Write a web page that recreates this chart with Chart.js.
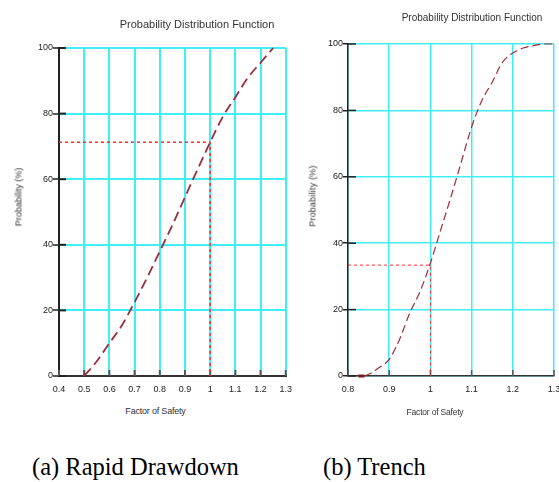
<!DOCTYPE html>
<html>
<head>
<meta charset="utf-8">
<script src="https://cdn.jsdelivr.net/npm/chart.js@4.4.0/dist/chart.umd.min.js"></script>
<style>
  html, body { margin: 0; padding: 0; background: #fff; overflow: hidden; width: 559px; height: 482px; }
  .box { position: absolute; top: 0; }
  .txt { position: absolute; white-space: nowrap; font-family: "Liberation Sans", Arial, sans-serif; color: #333; line-height: 1; transform: translate(-50%, -50%); }
  .rot { transform: translate(-50%, -50%) rotate(-90deg); }
  .cap { position: absolute; top: 455px; font-family: "Liberation Serif", "Times New Roman", serif; font-size: 24.5px; line-height: 1; color: #000; white-space: nowrap; }
</style>
</head>
<body>
<div class="box" style="left:0"><canvas id="chartA" width="300" height="400"></canvas></div>
<div class="box" style="left:290px"><canvas id="chartB" width="290" height="400"></canvas></div>

<div class="txt" style="left:197px;top:23.5px;font-size:11px">Probability Distribution Function</div>
<div class="txt" style="left:472px;top:17.5px;font-size:10px">Probability Distribution Function</div>
<div class="txt rot" style="left:19px;top:197px;font-size:9px">Probability (%)</div>
<div class="txt rot" style="left:313px;top:196px;font-size:9px;letter-spacing:0.2px">Probability (%)</div>
<div class="txt" style="left:155.5px;top:411px;font-size:9px;letter-spacing:-0.2px">Factor of Safety</div>
<div class="txt" style="left:435px;top:411.5px;font-size:8.5px;letter-spacing:-0.2px">Factor of Safety</div>
<div class="cap" style="left:32px">(a) Rapid Drawdown</div>
<div class="cap" style="left:323px">(b) Trench</div>

<script>
// tick values
const xTicksA = [0.4, 0.5, 0.6, 0.7, 0.8, 0.9, 1.0, 1.1, 1.2, 1.3];
const xTicksB = [0.8, 0.9, 1.0, 1.1, 1.2, 1.3];
const yTicks = [0, 20, 40, 60, 80, 100];

// (a) Rapid Drawdown
const fosA = [0.5, 0.55, 0.6, 0.65, 0.7, 0.75, 0.8, 0.85, 0.9, 0.95, 1.0, 1.05, 1.1, 1.15, 1.2, 1.25];
const probA = [0, 4.5, 10, 15.5, 22.5, 30, 38, 46, 54.5, 63, 71.3, 79, 85, 91, 95.5, 100];

// (b) Trench
const fosB = [0.84, 0.85, 0.875, 0.9, 0.925, 0.95, 0.975, 1.0, 1.025, 1.05, 1.075, 1.1, 1.125, 1.15, 1.175, 1.2, 1.225, 1.25, 1.275, 1.3];
const probB = [0, 0.5, 2.5, 5, 11, 19, 25.5, 34, 44, 54, 64.5, 75, 83, 88.5, 94.5, 97.3, 98.8, 99.5, 100, 100];
const startFosB = [0.825, 0.84];

// dotted guide lines at FS = 1
const refFos = [1.0, 1.0];
const refProb = [71.3, 33.4];

const cyan = "#40eef6";
const curveColor = "#9b2d3a";
const fontTicks = { family: "Liberation Sans", size: 9 };

// short inner tick marks on both axes
const innerTicks = {
  id: "innerTicks",
  beforeDatasetsDraw(chart, args, opts) {
    const { ctx, chartArea, scales } = chart;
    ctx.save();
    ctx.lineWidth = opts.width;
    ctx.strokeStyle = "#555";
    scales.x.ticks.forEach(t => {
      const px = scales.x.getPixelForValue(t.value);
      ctx.beginPath();
      ctx.moveTo(px, chartArea.bottom);
      ctx.lineTo(px, chartArea.bottom - opts.xLen);
      ctx.stroke();
    });
    ctx.strokeStyle = "#222";
    scales.y.ticks.forEach(t => {
      const py = scales.y.getPixelForValue(t.value);
      ctx.beginPath();
      ctx.moveTo(chartArea.left, py);
      ctx.lineTo(chartArea.left + opts.yLen, py);
      ctx.stroke();
    });
    ctx.restore();
  }
};

const pts = (xs, ys) => xs.map((x, i) => ({ x: x, y: ys[i] }));

//Chart (a)
const dataA = {
  datasets: [
    {
      data: pts(fosA, probA),
      borderColor: curveColor,
      borderWidth: 1.8,
      borderDash: [10, 5],
      pointRadius: 0,
      cubicInterpolationMode: "monotone",
      clip: 4,
    },
    {
      data: [{ x: xTicksA[0], y: refProb[0] }, { x: refFos[0], y: refProb[0] }, { x: refFos[0], y: 0 }],
      borderColor: "#ff2a2a",
      borderWidth: 1.5,
      borderDash: [3, 3],
      pointRadius: 0,
    },
  ],
};
const configA = {
  type: "line",
  data: dataA,
  plugins: [innerTicks],
  options: {
    responsive: false,
    animation: false,
    events: [],
    layout: { padding: { top: 48, right: 12, left: 0, bottom: 0 } },
    plugins: {
      legend: { display: false },
      tooltip: { enabled: false },
      innerTicks: { xLen: 6, yLen: 7, width: 2 },
    },
    scales: {
      x: {
        type: "linear",
        min: xTicksA[0],
        max: xTicksA[xTicksA.length - 1],
        afterBuildTicks: s => { s.ticks = xTicksA.map(v => ({ value: v })); },
        afterFit: s => { s.height = 24; },
        grid: { color: cyan, lineWidth: 2, drawTicks: false },
        border: { color: "#333", width: 2 },
        ticks: { font: fontTicks, color: "#222", padding: 8, maxRotation: 0, autoSkip: false, callback: v => String(v) },
      },
      y: {
        min: 0,
        max: 100,
        afterBuildTicks: s => { s.ticks = yTicks.map(v => ({ value: v })); },
        afterFit: s => { s.width = 59; },
        grid: { color: cyan, lineWidth: 2, tickLength: 6, tickColor: "#222", tickWidth: 1.5 },
        border: { color: "#222", width: 2 },
        ticks: { font: fontTicks, color: "#222", padding: 0 },
      },
    },
  },
};
var chartA = new Chart(document.getElementById("chartA"), configA);

//Chart (b)
const dataB = {
  datasets: [
    {
      data: pts(fosB, probB),
      borderColor: curveColor,
      borderWidth: 1.2,
      borderDash: [8, 4],
      pointRadius: 0,
      cubicInterpolationMode: "monotone",
      clip: 4,
    },
    {
      data: pts(startFosB, [0, 0]),
      borderColor: "#7a1a22",
      borderWidth: 3,
      pointRadius: 0,
      clip: false,
    },
    {
      data: [{ x: xTicksB[0], y: refProb[1] }, { x: refFos[1], y: refProb[1] }, { x: refFos[1], y: 0 }],
      borderColor: "#ff2a2a",
      borderWidth: 1,
      borderDash: [3, 3],
      pointRadius: 0,
    },
  ],
};
const configB = {
  type: "line",
  data: dataB,
  plugins: [innerTicks],
  options: {
    responsive: false,
    animation: false,
    events: [],
    layout: { padding: { top: 44, right: 26, left: 0, bottom: 0 } },
    plugins: {
      legend: { display: false },
      tooltip: { enabled: false },
      innerTicks: { xLen: 6, yLen: 8, width: 1.5 },
    },
    scales: {
      x: {
        type: "linear",
        min: xTicksB[0],
        max: xTicksB[xTicksB.length - 1],
        afterBuildTicks: s => { s.ticks = xTicksB.map(v => ({ value: v })); },
        afterFit: s => { s.height = 24; },
        grid: { color: cyan, lineWidth: 1.5, drawTicks: false },
        border: { color: "#333", width: 1.5 },
        ticks: { font: fontTicks, color: "#222", padding: 8, maxRotation: 0, autoSkip: false, callback: v => String(v) },
      },
      y: {
        min: 0,
        max: 100,
        afterBuildTicks: s => { s.ticks = yTicks.map(v => ({ value: v })); },
        afterFit: s => { s.width = 58; },
        grid: { color: cyan, lineWidth: 1.5, tickLength: 5, tickColor: "#222", tickWidth: 1.5 },
        border: { color: "#222", width: 1.5 },
        ticks: { font: fontTicks, color: "#222", padding: 0 },
      },
    },
  },
};
var chartB = new Chart(document.getElementById("chartB"), configB);
</script>
</body>
</html>
